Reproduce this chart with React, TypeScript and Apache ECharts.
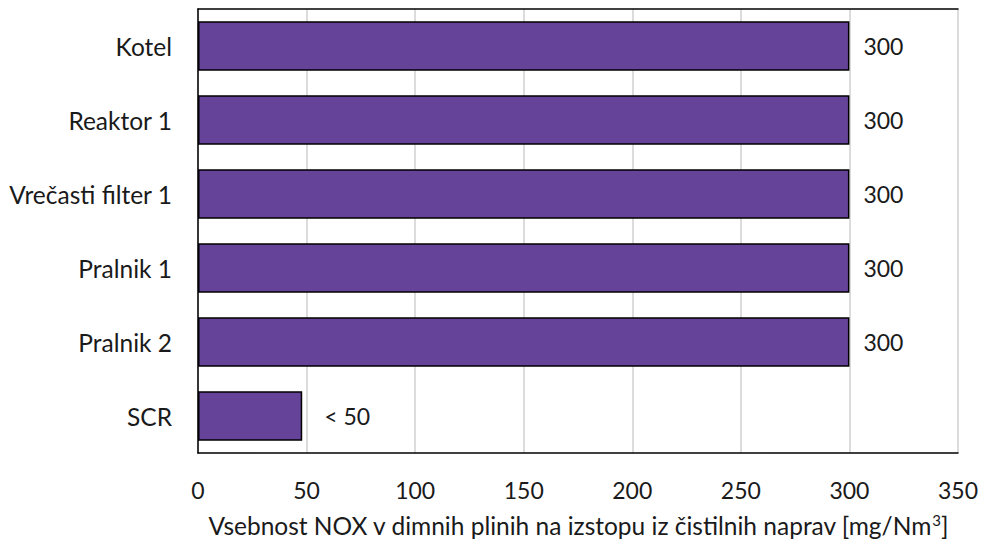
import React, { useEffect, useRef } from "react";
import * as echarts from "echarts";

// Treatment stages, top to bottom
const categories = ["Kotel", "Reaktor 1", "Vrečasti filter 1", "Pralnik 1", "Pralnik 2", "SCR"];
// NOX content at the outlet of each device [mg/Nm3]
const noxValues = [300, 300, 300, 300, 300, 48];
// Text shown at the end of each bar
const valueLabels = ["300", "300", "300", "300", "300", "< 50"];
// Value axis ticks
const xTicks = [0, 50, 100, 150, 200, 250, 300, 350];

const FONT = "Lato";
const TEXT = "#1a1a1a";

export default function App() {
  const ref = useRef<HTMLDivElement>(null);

  useEffect(() => {
    if (!ref.current) return;
    const chart = echarts.init(ref.current, undefined, { renderer: "svg" });
    chart.setOption({
      animation: false,
      backgroundColor: "#ffffff",
      grid: { left: 198, right: 24, top: 9, bottom: 86, containLabel: false },
      xAxis: [
        {
          type: "value",
          min: xTicks[0],
          max: xTicks[xTicks.length - 1],
          interval: 50,
          position: "bottom",
          axisLine: { show: true, lineStyle: { color: "#000", width: 1.5 } },
          axisTick: { show: false },
          splitLine: { show: true, lineStyle: { color: "#d0d0d0", width: 1.5 } },
          axisLabel: { color: TEXT, fontFamily: FONT, fontSize: 23, margin: 25 },
          name: "Vsebnost NOX v dimnih plinih na izstopu iz čistilnih naprav [mg/Nm{sup|3}]",
          nameLocation: "middle",
          nameGap: 59,
          nameTextStyle: {
            color: TEXT,
            fontFamily: FONT,
            fontSize: 24.5,
            lineHeight: 26,
            rich: {
              sup: { fontSize: 15, fontFamily: FONT, color: TEXT, lineHeight: 26, verticalAlign: "top" },
            },
          },
        },
        {
          type: "value",
          min: xTicks[0],
          max: xTicks[xTicks.length - 1],
          interval: 50,
          position: "top",
          axisLine: { show: true, lineStyle: { color: "#000", width: 1.5 } },
          axisTick: { show: false },
          axisLabel: { show: false },
          splitLine: { show: false },
        },
      ],
      yAxis: [
        {
          type: "category",
          data: categories,
          inverse: true,
          axisLine: { show: false },
          axisTick: { show: false },
          axisLabel: { color: TEXT, fontFamily: FONT, fontSize: 24.5, margin: 26 },
        },
        {
          type: "category",
          data: categories,
          inverse: true,
          position: "right",
          axisLine: { show: true, lineStyle: { color: "#000", width: 1.5 } },
          axisTick: { show: false },
          axisLabel: { show: false },
        },
      ],
      series: [
        {
          type: "bar",
          xAxisIndex: 0,
          yAxisIndex: 0,
          barCategoryGap: "33%",
          data: noxValues.map((v, i) => ({
            value: v,
            label: {
              show: true,
              position: "right",
              distance: i === noxValues.length - 1 ? 22 : 14,
              formatter: valueLabels[i],
              color: TEXT,
              fontFamily: FONT,
              fontSize: 23,
            },
          })),
          itemStyle: { color: "#654399", borderColor: "#000", borderWidth: 1.5 },
        },
      ],
    });
    return () => chart.dispose();
  }, []);

  return (
    <div
      ref={ref}
      style={{ position: "fixed", top: 0, left: 0, width: 982, height: 543 }}
    />
  );
}
